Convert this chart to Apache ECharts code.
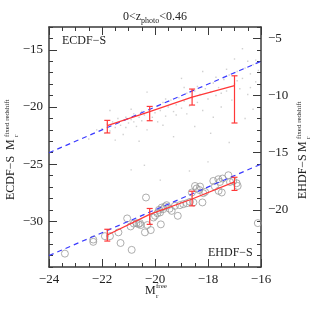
<!DOCTYPE html>
<html><head><meta charset="utf-8">
<script src="https://cdn.jsdelivr.net/npm/echarts@6/dist/echarts.min.js"></script>
<style>html,body{margin:0;padding:0;background:#fff}#c{width:316px;height:316px}</style>
</head><body><div id="c"></div>
<script>
// ---- data ----
const xTicks = [-24, -22, -20, -18, -16];
const leftTicks = [-30, -25, -20, -15];
const rightTicks = [-20, -15, -10, -5];
const oneToOne = [-24, -16];
const binX = [-21.8, -20.2, -18.6, -17.0];
// ECDF-S (left axis)
const ecdfMed = [-21.63, -20.4, -19.13, -18.14];
const ecdfLo = [-22.27, -21.2, -19.83, -21.4];
const ecdfHi = [-21.17, -19.95, -18.43, -17.27];
// EHDF-S (right axis)
const ehdfMed = [-22.2, -20.4, -19.05, -17.55];
const ehdfLo = [-22.73, -21.27, -19.65, -18.3];
const ehdfHi = [-21.7, -19.88, -18.37, -17.15];
const ecdfDots = [
[-22.2,-22.0],[-22.0,-21.9],[-21.9,-22.3],[-21.8,-21.5],[-21.7,-22.1],[-21.6,-21.3],[-21.5,-21.8],[-21.4,-21.0],[-21.3,-21.6],[-21.2,-22.4],
[-21.1,-20.9],[-21.0,-21.4],[-20.9,-21.1],[-20.8,-20.6],[-20.7,-21.7],[-20.6,-20.9],[-20.5,-20.4],[-20.5,-21.2],[-20.4,-20.7],[-20.3,-22.0],
[-20.2,-20.2],[-20.1,-20.9],[-20.0,-20.5],[-19.9,-19.9],[-19.9,-21.3],[-19.8,-20.3],[-19.7,-19.6],[-19.6,-20.8],[-19.5,-20.0],[-19.4,-19.4],
[-19.3,-20.4],[-19.2,-19.8],[-19.1,-19.2],[-19.0,-20.1],[-18.9,-19.5],[-18.8,-18.8],[-18.7,-19.9],[-18.6,-19.2],[-18.5,-18.6],[-18.4,-19.6],
[-18.3,-18.9],[-18.2,-20.3],[-18.1,-18.4],[-18.0,-19.3],[-17.9,-18.7],[-17.8,-17.9],[-17.7,-19.0],[-17.6,-18.3],[-17.5,-20.0],[-17.4,-17.6],
[-17.3,-18.6],[-17.2,-17.2],[-17.1,-19.4],[-17.0,-18.0],[-16.9,-16.9],[-16.8,-18.4],[-16.7,-17.5],[-16.6,-16.6],[-16.5,-18.9],[-16.4,-17.1],
[-16.3,-16.3],[-16.2,-17.8],[-16.1,-16.8],[-20.6,-23.0],[-19.3,-22.6],[-18.5,-21.7],[-17.9,-22.3],[-17.2,-23.1],[-16.6,-21.0],[-16.3,-20.2],
[-21.7,-20.3],[-20.3,-18.7],[-19.0,-17.5],[-18.2,-16.9],[-17.0,-15.8],[-16.7,-14.9],[-22.5,-22.8],[-20.4,-25.1],[-20.9,-25.5],[-19.8,-26.4],
[-18.0,-24.8],[-18.7,-25.6],[-21.1,-21.8],[-20.8,-21.3],[-19.6,-19.3],[-19.2,-20.7],[-18.9,-18.3],[-18.4,-18.2],[-17.7,-17.4],[-17.5,-18.8],
[-16.9,-17.7],[-16.4,-18.3],[-16.2,-15.9],[-17.3,-16.7],[-18.8,-20.6],[-19.7,-21.6],[-20.9,-20.2],[-21.5,-22.9],[-16.5,-16.0],[-17.8,-20.9]
];
const ehdfCircles = [
[-23.4,-23.83],[-22.33,-22.6],[-22.33,-22.8],[-21.89,-22.3],[-21.7,-22.3],[-21.38,-21.97],[-21.3,-22.9],[-21.05,-20.75],[-20.88,-23.5],[-20.92,-21.45],
[-20.7,-21.16],[-20.57,-21.16],[-20.54,-21.33],[-20.38,-21.97],[-20.34,-18.92],[-20.29,-21.33],[-20.16,-21.77],[-20.06,-20.67],[-20.0,-20.52],[-19.91,-20.3],
[-19.78,-21.27],[-19.81,-20.23],[-19.69,-19.94],[-19.56,-19.59],[-19.37,-20.09],[-19.25,-19.65],[-19.14,-20.52],[-19.06,-19.59],[-18.93,-19.5],[-18.8,-19.42],
[-18.68,-19.3],[-18.61,-18.48],[-18.55,-19.35],[-18.49,-17.91],[-18.43,-18.13],[-18.33,-18.26],[-18.3,-17.96],[-18.21,-19.35],[-18.18,-18.54],[-18.11,-18.43],
[-17.8,-17.47],[-17.74,-17.96],[-17.61,-17.32],[-17.55,-17.56],[-17.6,-18.34],[-17.48,-18.48],[-17.45,-17.26],[-17.23,-16.97],[-17.17,-17.56],[-16.92,-17.67],
[-16.88,-17.91],[-16.12,-21.16],[-19.85,-20.0],[-19.75,-19.8],[-19.62,-19.7],[-19.45,-19.9],[-20.62,-21.25],[-20.8,-21.2],[-17.05,-17.47]
];
// ---- chart ----
const FONT = '"Liberation Serif", serif';
const AX = '#3a3a3a';
const fmt = v => '\u2212' + Math.abs(v);
const chart = echarts.init(document.getElementById('c'), null, {renderer: 'canvas'});
function errSeries(lo, hi, yIdx) {
  return {
    type: 'custom', xAxisIndex: 0, yAxisIndex: yIdx, silent: true, z: 5,
    data: binX.map((x, i) => [x, lo[i], hi[i]]),
    renderItem: (params, api) => {
      const a = api.coord([api.value(0), api.value(1)]);
      const b = api.coord([api.value(0), api.value(2)]);
      const w = 3, st = {stroke: '#ff3838', lineWidth: 1.2};
      return {type: 'group', children: [
        {type: 'line', shape: {x1: a[0], y1: a[1], x2: b[0], y2: b[1]}, style: st},
        {type: 'line', shape: {x1: a[0] - w, y1: a[1], x2: a[0] + w, y2: a[1]}, style: st},
        {type: 'line', shape: {x1: b[0] - w, y1: b[1], x2: b[0] + w, y2: b[1]}, style: st}
      ]};
    }
  };
}
const minorY = (min, max, pos) => ({
  type: 'value', min, max, interval: 1, position: pos, offset: 0,
  axisLine: {show: false}, splitLine: {show: false}, axisLabel: {show: false},
  axisTick: {show: true, inside: true, length: 4, lineStyle: {color: AX, width: 1}}
});
chart.setOption({
  animation: false,
  backgroundColor: '#fff',
  grid: {left: 49, right: 55, top: 27, bottom: 49, containLabel: false},
  xAxis: [
    {type: 'value', min: -24, max: -16, interval: 2, position: 'bottom',
     axisLine: {show: true, lineStyle: {color: AX, width: 1.5}},
     axisTick: {inside: true, length: 8, lineStyle: {color: AX, width: 1}},
     minorTick: {show: true, splitNumber: 4, length: 4, lineStyle: {color: AX, width: 1}},
     splitLine: {show: false},
     axisLabel: {formatter: fmt, color: '#222', fontFamily: FONT, fontSize: 13, margin: 6,
                 customValues: xTicks}},
    {type: 'value', min: -24, max: -16, interval: 2, position: 'top',
     axisLine: {show: true, lineStyle: {color: AX, width: 1.5}},
     axisTick: {inside: true, length: 8, lineStyle: {color: AX, width: 1}},
     minorTick: {show: true, splitNumber: 4, length: 4, lineStyle: {color: AX, width: 1}},
     splitLine: {show: false}, axisLabel: {show: false}}
  ],
  yAxis: [
    {type: 'value', min: -34, max: -13, position: 'left',
     axisLine: {show: true, lineStyle: {color: AX, width: 1.5}},
     axisTick: {show: true, inside: true, length: 8, customValues: leftTicks, lineStyle: {color: AX, width: 1}},
     splitLine: {show: false},
     axisLabel: {customValues: leftTicks, formatter: fmt, color: '#222', fontFamily: FONT, fontSize: 13, margin: 6}},
    minorY(-34, -13, 'left'),
    {type: 'value', min: -25, max: -4, position: 'right',
     axisLine: {show: true, lineStyle: {color: AX, width: 1.5}},
     axisTick: {show: true, inside: true, length: 8, customValues: rightTicks, lineStyle: {color: AX, width: 1}},
     splitLine: {show: false},
     axisLabel: {customValues: rightTicks, formatter: fmt, color: '#222', fontFamily: FONT, fontSize: 13, margin: 7}},
    minorY(-25, -4, 'right')
  ],
  series: [
    {type: 'scatter', xAxisIndex: 0, yAxisIndex: 0, data: ecdfDots, symbol: 'rect', symbolSize: 1.4,
     itemStyle: {color: '#c4c4c4'}, silent: true, z: 1},
    {type: 'scatter', xAxisIndex: 0, yAxisIndex: 2, data: ehdfCircles, symbol: 'circle', symbolSize: 7,
     itemStyle: {color: 'rgba(0,0,0,0)', borderColor: '#9a9a9a', borderWidth: 1}, silent: true, z: 2},
    {type: 'line', xAxisIndex: 0, yAxisIndex: 0, data: oneToOne.map(v => [v, v]), symbol: 'none',
     lineStyle: {color: '#3a3aff', width: 1.2, type: [5, 4]}, z: 3, silent: true},
    {type: 'line', xAxisIndex: 0, yAxisIndex: 2, data: oneToOne.map(v => [v, v]), symbol: 'none',
     lineStyle: {color: '#3a3aff', width: 1.2, type: [5, 4]}, z: 3, silent: true},
    {type: 'line', xAxisIndex: 0, yAxisIndex: 0, data: binX.map((x, i) => [x, ecdfMed[i]]), symbol: 'none',
     lineStyle: {color: '#ff3838', width: 1.3}, z: 4, silent: true},
    {type: 'line', xAxisIndex: 0, yAxisIndex: 2, data: binX.map((x, i) => [x, ehdfMed[i]]), symbol: 'none',
     lineStyle: {color: '#ff3838', width: 1.3}, z: 4, silent: true},
    errSeries(ecdfLo, ecdfHi, 0),
    errSeries(ehdfLo, ehdfHi, 2)
  ],
  graphic: [
    {type: 'text', x: 155, y: 17, style: {
      text: '0<z{sub|photo}<0.46', fontFamily: FONT, fontSize: 12, fill: '#222', align: 'center', verticalAlign: 'middle',
      rich: {sub: {fontSize: 8, fontFamily: FONT, fill: '#222', padding: [7, 0, 0, 0]}}}},
    {type: 'text', x: 62, y: 41, style: {text: 'ECDF\u2212S', fontFamily: FONT, fontSize: 12, fill: '#222', verticalAlign: 'middle'}},
    {type: 'text', x: 208, y: 253, style: {text: 'EHDF\u2212S', fontFamily: FONT, fontSize: 12, fill: '#222', verticalAlign: 'middle'}},
    // x axis title
    {type: 'text', x: 145, y: 291, style: {text: 'M', fontFamily: FONT, fontSize: 12, fill: '#222', verticalAlign: 'middle'}},
    {type: 'text', x: 156, y: 286, style: {text: 'free', fontFamily: FONT, fontSize: 7, fill: '#222', verticalAlign: 'middle'}},
    {type: 'text', x: 156, y: 296, style: {text: 'r', fontFamily: FONT, fontSize: 7, fill: '#222', verticalAlign: 'middle'}},
    // left y title (rotated)
    {type: 'text', x: 11, y: 200, rotation: Math.PI / 2, style: {text: 'ECDF\u2212S', fontFamily: FONT, fontSize: 12, fill: '#222', verticalAlign: 'middle'}},
    {type: 'text', x: 11, y: 150, rotation: Math.PI / 2, style: {text: 'M', fontFamily: FONT, fontSize: 12, fill: '#222', verticalAlign: 'middle'}},
    {type: 'text', x: 7, y: 137, rotation: Math.PI / 2, style: {text: 'fixed redshift', fontFamily: FONT, fontSize: 7, fill: '#222', verticalAlign: 'middle'}},
    {type: 'text', x: 16, y: 137, rotation: Math.PI / 2, style: {text: 'r', fontFamily: FONT, fontSize: 7, fill: '#222', verticalAlign: 'middle'}},
    // right y title (rotated)
    {type: 'text', x: 303, y: 199, rotation: Math.PI / 2, style: {text: 'EHDF\u2212S', fontFamily: FONT, fontSize: 12, fill: '#222', verticalAlign: 'middle'}},
    {type: 'text', x: 303, y: 152, rotation: Math.PI / 2, style: {text: 'M', fontFamily: FONT, fontSize: 12, fill: '#222', verticalAlign: 'middle'}},
    {type: 'text', x: 299, y: 139, rotation: Math.PI / 2, style: {text: 'fixed redshift', fontFamily: FONT, fontSize: 7, fill: '#222', verticalAlign: 'middle'}},
    {type: 'text', x: 308, y: 139, rotation: Math.PI / 2, style: {text: 'r', fontFamily: FONT, fontSize: 7, fill: '#222', verticalAlign: 'middle'}}
  ]
});
</script></body></html>
